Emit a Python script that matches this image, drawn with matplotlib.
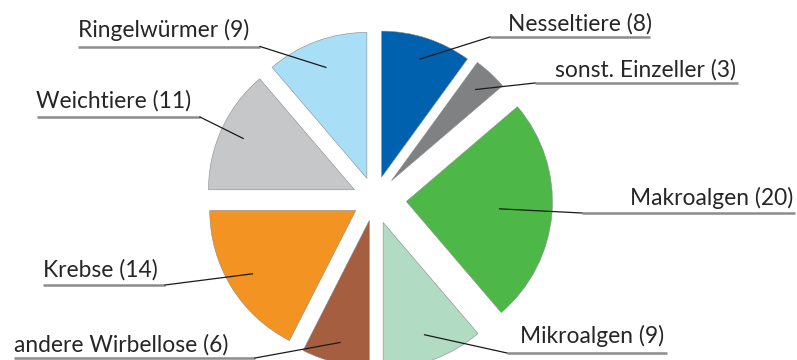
import numpy as np
import matplotlib
matplotlib.use("Agg")
import matplotlib.pyplot as plt

## data
labels = ["Nesseltiere", "sonst. Einzeller", "Makroalgen", "Mikroalgen",
          "andere Wirbellose", "Krebse", "Weichtiere", "Ringelwürmer"]
values = [8, 3, 20, 9, 6, 14, 11, 9]
colors = ["#0062ae", "#808183", "#4db848", "#b1dbc2",
          "#a55f40", "#f39322", "#c6c7c9", "#a9def7"]

## layout (pixel coords of the 797x360 picture, y from top)
W, H = 797, 360
center_px = (374.5, 199)
radius = 146
explode = [23, 25, 32, 25, 22, 22, 22, 22]
# text left x, baseline y, underline y, underline x0, x1, anchor radius fraction
label_pos = [
    (508, 31, 37, 490, 650, 0.85),
    (555, 77, 83, 535, 738, 0.85),
    (630, 205, 213, 582, 795, 0.64),
    (520, 343, 353, 507, 667, 0.82),
    (14, 352, 358, 14, 255, 0.86),
    (43, 277, 285, 43, 165, 0.83),
    (36, 108, 117, 37, 200, 0.84),
    (78, 37, 46.5, 78, 260, 0.81),
]


def py(y):
    return H - y


fig = plt.figure(figsize=(W / 100, H / 100), dpi=100)
ax = fig.add_axes([0, 0, 1, 1])

wedges, _ = ax.pie(values, colors=colors, explode=explode, radius=radius,
                   center=(center_px[0], py(center_px[1])), startangle=90,
                   counterclock=False,
                   wedgeprops=dict(edgecolor="#8a8a8a", linewidth=0.4))

ax.set_xlim(0, W)
ax.set_ylim(0, H)
ax.set_aspect("equal")
ax.axis("off")

for w, lab, v, pos in zip(wedges, labels, values, label_pos):
    tx, tb, uy, ux0, ux1, frac = pos
    ang = np.deg2rad((w.theta1 + w.theta2) / 2)
    cx, cy = w.center
    ax_, ay_ = cx + frac * w.r * np.cos(ang), cy + frac * w.r * np.sin(ang)
    ax.text(tx, py(tb), f"{lab} ({v})", fontsize=16.4, family="Lato",
            color="#262626", va="baseline", ha="left")
    ax.plot([ux0, ux1], [py(uy), py(uy)], color="#8c8c8c", lw=1.8,
            solid_capstyle="butt")
    # leader line from underline end into the slice
    end_x = ux1 if tx < center_px[0] else ux0
    ax.plot([end_x, ax_], [py(uy), ay_], color="#1a1a1a", lw=0.9)

plt.savefig("out.png", dpi=100)
